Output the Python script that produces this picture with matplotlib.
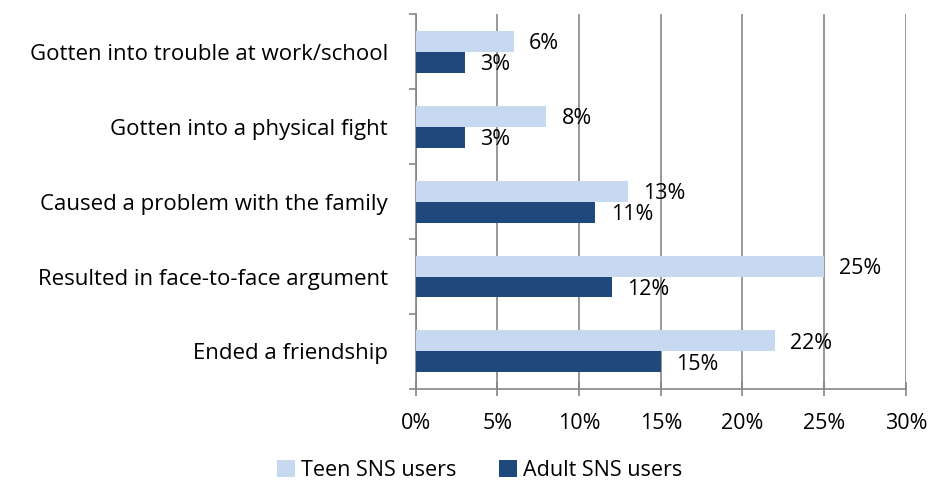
import matplotlib.pyplot as plt
import numpy as np
from matplotlib.ticker import FuncFormatter, FixedLocator

plt.rcParams['font.family'] = ['Open Sans', 'DejaVu Sans']

# data (top to bottom as in the chart)
categories = ['Gotten into trouble at work/school',
              'Gotten into a physical fight',
              'Caused a problem with the family',
              'Resulted in face-to-face argument',
              'Ended a friendship']
teen = [6, 8, 13, 25, 22]
adult = [3, 3, 11, 12, 15]
xticks = [0, 5, 10, 15, 20, 25, 30]

teen_color = '#C6D9F1'
adult_color = '#1F497D'
grid_color = '#868686'
fs = 16

fig = plt.figure(figsize=(9.3, 4.88), dpi=100)
ax = fig.add_axes([0.447, 0.203, 0.527, 0.768])

y = np.arange(len(categories))[::-1]
h = 0.28
ax.barh(y + h / 2, teen, height=h, color=teen_color, label='Teen SNS users', zorder=3)
ax.barh(y - h / 2, adult, height=h, color=adult_color, label='Adult SNS users', zorder=3)

# value labels
for yi, v in zip(y + h / 2, teen):
    ax.annotate(f'{v}%', (v, yi), xytext=(11, -2), textcoords='offset points',
                va='center', ha='left', fontsize=fs - 0.5, zorder=4)
for yi, v in zip(y - h / 2, adult):
    ax.annotate(f'{v}%', (v, yi), xytext=(11, -2), textcoords='offset points',
                va='center', ha='left', fontsize=fs - 0.5, zorder=4)

ax.set_xlim(0, 30)
ax.set_ylim(-0.5, len(categories) - 0.5)
ax.set_xticks(xticks)
ax.xaxis.set_major_formatter(FuncFormatter(lambda v, p: f'{v:.0f}%'))
ax.set_yticks(y)
ax.set_yticklabels(categories)
ax.yaxis.set_minor_locator(FixedLocator(np.arange(-0.5, len(categories), 1)))

ax.tick_params(axis='y', which='major', length=0, pad=20, labelsize=fs)
ax.tick_params(axis='y', which='minor', length=5, direction='out', color=grid_color, width=1.2)
ax.tick_params(axis='x', which='major', length=10, direction='inout', color=grid_color,
               width=1.2, pad=12, labelsize=fs - 0.5)

ax.grid(axis='x', color=grid_color, linewidth=1.2, zorder=0)
for s in ['top', 'right']:
    ax.spines[s].set_visible(False)
for s in ['left', 'bottom']:
    ax.spines[s].set_color(grid_color)
    ax.spines[s].set_linewidth(1.2)

fig.legend(loc='lower center', bbox_to_anchor=(0.516, -0.025), ncol=2, frameon=False,
           fontsize=fs - 0.5, handlelength=0.8, handleheight=0.8, handletextpad=0.3,
           columnspacing=2.0)

plt.savefig('out.png', dpi=100)
plt.close()
